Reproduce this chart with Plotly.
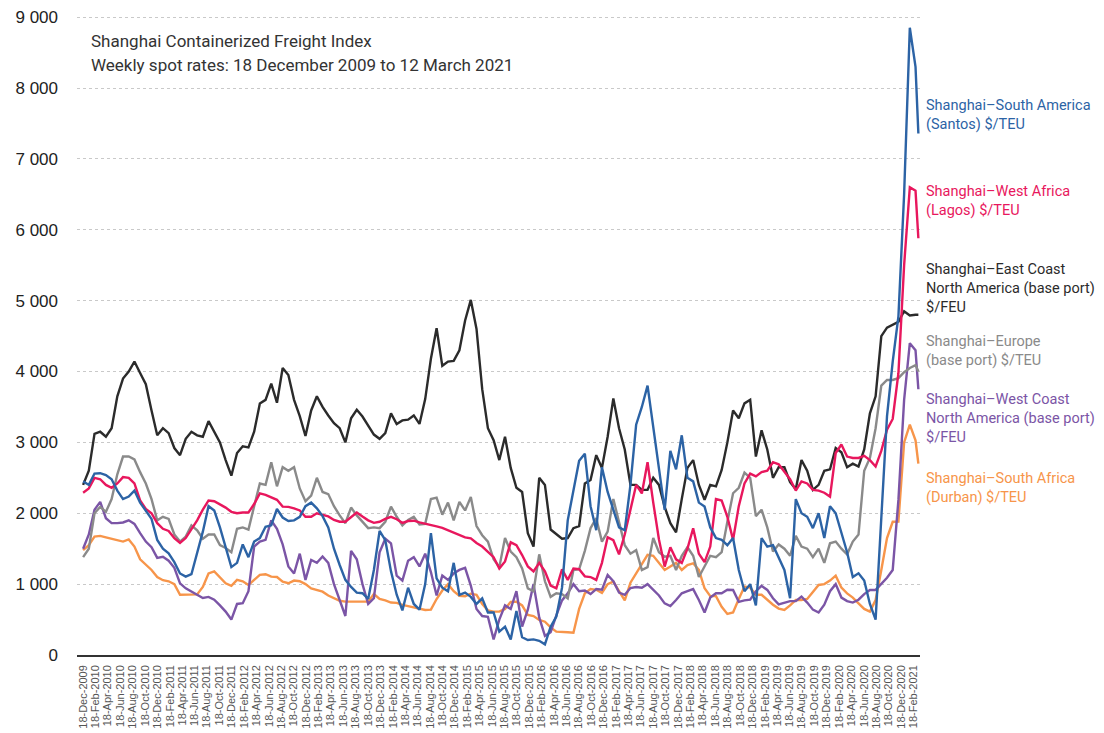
import pandas as pd
import plotly.graph_objects as go

# weekly SCFI spot rates, every 4th week (plus the last week)
dates = list(pd.date_range("2009-12-18", periods=147, freq="28D")) + [pd.Timestamp("2021-03-12")]

south_america = [
    2450, 2400, 2560, 2565, 2540, 2480, 2320, 2200, 2235, 2320, 2150, 2030, 1920, 1624, 1500, 1435, 1310, 1150, 1106, 1140, 1450, 1740, 2100, 2040, 1800,
    1530, 1240, 1300, 1560, 1380, 1600, 1650, 1810, 1830, 2060, 1940, 1890, 1900, 1950, 2100, 2150, 2070, 1960, 1800, 1500, 1270, 1060, 960, 880,
    871, 790, 1200, 1750, 1620, 1180, 850, 630, 950, 720, 640, 1000, 1718, 1080, 950, 900, 1300, 850, 880, 820, 720, 800, 600, 600,
    330, 400, 220, 620, 250, 212, 220, 200, 150, 400, 541, 950, 1900, 2300, 2740, 2840, 2100, 1760, 2650, 2300, 2050, 1800, 1760, 2400, 3250,
    3500, 3800, 3200, 2600, 2047, 2880, 2620, 3100, 2500, 2450, 2150, 2094, 1800, 1650, 1624, 1550, 1650, 1200, 900, 1000, 700, 1650, 1529, 1550, 1370,
    1200, 800, 2200, 2000, 1950, 1790, 2000, 1650, 2100, 2000, 1720, 1450, 1100, 1153, 1050, 720, 500, 1850, 3370, 4140, 4776, 6500, 8850, 8300, 7358]

west_africa = [
    2290, 2350, 2500, 2480, 2400, 2360, 2420, 2510, 2500, 2420, 2180, 2060, 2000, 1860, 1780, 1750, 1650, 1580, 1650, 1770, 1900, 2050, 2180, 2170, 2125,
    2080, 2020, 2000, 2010, 2010, 2130, 2280, 2260, 2220, 2190, 2094, 2090, 2070, 2040, 1950, 1950, 2000, 1980, 1955, 1906, 1880, 1880, 1950, 2010,
    1953, 1900, 1865, 1880, 1920, 1950, 1915, 1865, 1890, 1895, 1870, 1855, 1830, 1815, 1795, 1760, 1720, 1685, 1660, 1645, 1580, 1530, 1450, 1380,
    1220, 1320, 1590, 1550, 1410, 1250, 1180, 1300, 1180, 980, 940, 1210, 1060, 1220, 1210, 1110, 1100, 1059, 1300, 1660, 1620, 1420, 1700, 2050, 2400,
    2280, 2720, 2150, 1630, 1247, 1520, 1350, 1300, 1500, 1788, 1430, 1310, 1530, 2200, 2180, 1950, 1624, 2100, 2420, 2560, 2520, 2580, 2600, 2720, 2690,
    2580, 2480, 2320, 2450, 2420, 2330, 2320, 2290, 2235, 2850, 2970, 2800, 2780, 2780, 2810, 2750, 2660, 2880, 3180, 3330, 3976, 5500, 6600, 6550, 5880]

east_coast_na = [
    2400, 2600, 3120, 3150, 3080, 3200, 3650, 3900, 4000, 4140, 3980, 3820, 3450, 3100, 3200, 3130, 2920, 2820, 3050, 3150, 3100, 3080, 3300, 3150, 3000,
    2750, 2530, 2850, 2945, 2930, 3150, 3550, 3600, 3830, 3560, 4050, 3950, 3600, 3370, 3090, 3450, 3650, 3500, 3380, 3270, 3200, 3000, 3340, 3460,
    3365, 3230, 3110, 3050, 3130, 3410, 3260, 3310, 3320, 3380, 3260, 3610, 4180, 4610, 4080, 4140, 4150, 4300, 4720, 5010, 4600, 3750, 3200, 3030, 2750, 3080,
    2640, 2360, 2300, 1720, 1530, 2500, 2400, 1770, 1700, 1640, 1650, 1790, 1820, 2420, 2470, 2820, 2640, 3080, 3620, 3200, 2900, 2400, 2400,
    2330, 2330, 2500, 2400, 2090, 1860, 1730, 2200, 2640, 2750, 2400, 2190, 2400, 2380, 2610, 3000, 3450, 3340, 3550, 3600, 2800, 3170, 2900, 2500, 2650,
    2650, 2440, 2340, 2750, 2600, 2330, 2400, 2600, 2620, 2920, 2860, 2650, 2700, 2660, 2900, 3410, 3650, 4500, 4620, 4660, 4700, 4850, 4790, 4800, 4800]

europe = [
    1380, 1500, 2000, 2090, 2020, 2200, 2550, 2800, 2800, 2760, 2580, 2420, 2200, 1900, 1950, 1920, 1700, 1600, 1670, 1830, 1760, 1640, 1700, 1700, 1550,
    1510, 1450, 1780, 1800, 1770, 2100, 2420, 2400, 2720, 2380, 2650, 2600, 2650, 2350, 2170, 2250, 2500, 2300, 2270, 2100, 1970, 1860, 2080, 1970,
    1880, 1790, 1800, 1790, 1880, 2094, 1950, 1830, 1906, 1950, 1840, 1850, 2200, 2220, 1980, 2150, 1900, 2160, 2040, 2230, 1820, 1690, 1600, 1350,
    1240, 1650, 1460, 1380, 1220, 940, 900, 1420, 1040, 820, 871, 860, 800, 1200, 1210, 1470, 1790, 1930, 1600, 1740, 2200, 1870, 1550, 1430, 1480,
    1200, 1240, 1650, 1450, 1388, 1400, 1200, 1400, 1520, 1400, 1100, 1240, 1400, 1380, 1450, 1880, 2282, 2360, 2575, 2500, 1960, 2050, 1800, 1460, 1560,
    1500, 1400, 1680, 1529, 1500, 1380, 1500, 1300, 1576, 1600, 1500, 1420, 1600, 1700, 2600, 2780, 3200, 3800, 3880, 3880, 3906, 3990, 4050, 4090, 4000]

west_coast_na = [
    1500, 1700, 2050, 2160, 1930, 1860, 1860, 1870, 1900, 1850, 1720, 1600, 1520, 1370, 1385, 1330, 1230, 1010, 940, 895, 860, 805, 820, 780, 700,
    612, 500, 720, 730, 900, 1530, 1600, 1624, 1900, 1780, 1560, 1250, 1150, 1430, 1060, 1340, 1300, 1390, 1300, 1000, 760, 550, 1470, 1350,
    1000, 720, 800, 1450, 1640, 1576, 1120, 1050, 1330, 1380, 1250, 1430, 1170, 840, 1120, 1059, 1150, 1200, 1230, 980, 650, 550, 540, 220,
    500, 700, 650, 900, 400, 640, 1000, 530, 270, 320, 560, 770, 871, 1000, 900, 910, 860, 930, 920, 1130, 1040, 880, 850, 945, 960,
    950, 1000, 918, 840, 729, 690, 776, 870, 900, 930, 776, 600, 810, 871, 871, 920, 918, 750, 770, 780, 900, 975, 918, 800, 715,
    740, 760, 760, 824, 740, 640, 600, 710, 900, 1000, 810, 760, 740, 780, 860, 918, 918, 1000, 1090, 1200, 2188, 3600, 4400, 4300, 3750]

south_africa = [
    1480, 1550, 1670, 1680, 1660, 1640, 1620, 1600, 1630, 1530, 1350, 1270, 1200, 1100, 1055, 1040, 1000, 850, 850, 855, 855, 960, 1150, 1180, 1100,
    1012, 975, 1059, 1040, 988, 1059, 1130, 1140, 1106, 1100, 1035, 1012, 1050, 1040, 1000, 940, 915, 894, 840, 800, 765, 753, 753, 753,
    753, 753, 860, 790, 770, 740, 735, 706, 690, 670, 650, 635, 640, 790, 910, 1000, 900, 835, 830, 865, 850, 720, 630, 612,
    612, 650, 750, 753, 700, 565, 550, 495, 470, 390, 330, 329, 322, 315, 650, 870, 930, 920, 875, 1000, 1035, 900, 770, 1020, 1150,
    1300, 1412, 1400, 1300, 1200, 1250, 1300, 1200, 1270, 1294, 1200, 941, 830, 830, 680, 580, 600, 790, 965, 950, 850, 850, 780, 710, 655,
    635, 700, 776, 776, 790, 890, 988, 1000, 1050, 1120, 950, 870, 810, 729, 650, 612, 776, 1200, 1650, 1880, 1882, 3000, 3250, 3030, 2700]

for s in (south_america, west_africa, east_coast_na, europe, west_coast_na, south_africa):
    assert len(s) == len(dates), len(s)

labels = ["Shanghai–South America<br>(Santos) $/TEU",
          "Shanghai–West Africa<br>(Lagos) $/TEU",
          "Shanghai–East Coast<br>North America (base port)<br>$/FEU",
          "Shanghai–Europe<br>(base port) $/TEU",
          "Shanghai–West Coast<br>North America (base port)<br>$/FEU",
          "Shanghai–South Africa<br>(Durban) $/TEU"]
label_y = [7620, 6400, 5175, 4290, 3340, 2360]
colors = ["#2c63a5", "#e8175d", "#2b2b2b", "#8a8a8a", "#7b55a6", "#f7954a"]
series = [south_america, west_africa, east_coast_na, europe, west_coast_na, south_africa]

title_lines = ["Shanghai Containerized Freight Index",
               "Weekly spot rates: 18 December 2009 to 12 March 2021"]

# tick every two months on the 18th
x_ticks = list(pd.date_range("2009-12-01", "2021-02-01", freq="2MS") + pd.Timedelta(days=17))
y_ticks = [0, 1000, 2000, 3000, 4000, 5000, 6000, 7000, 8000, 9000]
y_tick_text = ["0", "1 000", "2 000", "3 000", "4 000", "5 000", "6 000", "7 000", "8 000", "9 000"]

txt_font = "Roboto, Liberation Sans, sans-serif"

fig = go.Figure()
draw_order = [5, 4, 3, 2, 1, 0]
for k in draw_order:
    fig.add_trace(go.Scatter(x=dates, y=series[k], mode="lines",
                             line=dict(color=colors[k], width=2.4),
                             name=labels[k].replace("<br>", " "), showlegend=False))

for k in range(6):
    fig.add_annotation(x=1, xref="paper", xshift=4, xanchor="left",
                       y=label_y[k], yref="y", yanchor="middle",
                       text=labels[k], showarrow=False, align="left",
                       font=dict(family=txt_font, size=14.5, color=colors[k]))

# two title lines, placed separately to get the wider line spacing
for line, shift in zip(title_lines, [-26, -50]):
    fig.add_annotation(x=0, xref="paper", xshift=12, xanchor="left",
                       y=1, yref="paper", yshift=shift, yanchor="middle",
                       text=line, showarrow=False, align="left",
                       font=dict(family=txt_font, size=17, color="#333333"))

fig.update_layout(
    width=1104, height=733,
    margin=dict(l=77, r=184, t=15, b=78),
    paper_bgcolor="white", plot_bgcolor="white",
    xaxis=dict(type="date", range=["2009-11-18", "2021-03-20"],
               tickvals=x_ticks, tickformat="%d-%b-%Y", tickangle=-90,
               tickfont=dict(family="Liberation Sans, Arial, sans-serif", size=11, color="#555555"),
               showgrid=False, showline=True, linecolor="#333333", linewidth=1.5,
               ticks="", ticklabelstandoff=4, zeroline=False, automargin=False),
    yaxis=dict(range=[0, 9030], tickvals=y_ticks, ticktext=y_tick_text,
               tickfont=dict(family="Liberation Sans, Arial, sans-serif", size=17, color="#222222"),
               showgrid=True, gridcolor="#c9c9c9", griddash="dot", gridwidth=1,
               ticks="", ticklabelstandoff=18, zeroline=False, showline=False, automargin=False),
)

# page body has a default 8px margin; drop it so the figure sits at the window corner
fig.write_html("out.html", config={"displayModeBar": False},
               post_script="document.body.style.margin='0';document.body.style.overflow='hidden';")
